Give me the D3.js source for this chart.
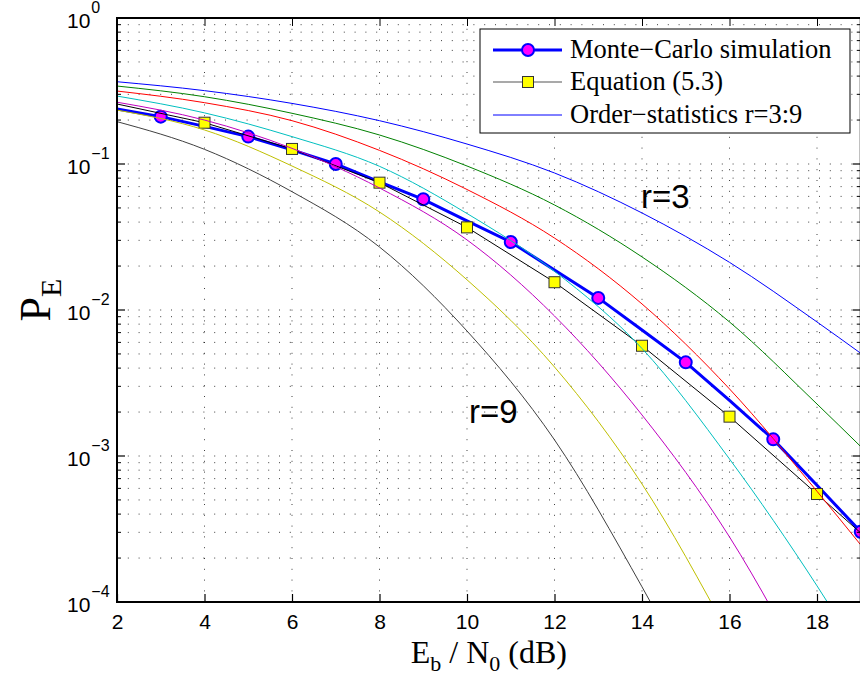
<!DOCTYPE html>
<html lang="en">
<head>
<meta charset="UTF-8">
<title>PE vs Eb/N0</title>
<script src="https://d3js.org/d3.v7.min.js"></script>
<style>
    body { margin: 0; background: #fff; }
    svg { display: block; }
    .tick text { font-family: "Liberation Sans", Arial, sans-serif; font-size: 21px; fill: #000; }
    .grid line { stroke: #000; stroke-width: 1; stroke-dasharray: 1,9.8; opacity: 0.75; }
    .serif { font-family: "Liberation Serif", "Times New Roman", serif; fill: #000; }
</style>
</head>
<body>
<script>
// Eb/N0 points (dB) used for the order-statistics curves
const snr = [2, 4, 6, 8, 10, 12, 14, 16, 18, 19];
// order statistics r = 3..9 (null = beyond the plot)
const r3 = [0.366, 0.318, 0.260, 0.198, 0.137, 0.0868, 0.0462, 0.0212, 0.00828, 0.00505];
const r4 = [0.342, 0.289, 0.2225, 0.158, 0.0969, 0.0524, 0.0231, 0.00828, 0.00227, 0.00116];
const r5 = [0.316, 0.263, 0.198, 0.124, 0.0669, 0.0311, 0.0110, 0.00288, 0.000573, 0.000246];
const r6 = [0.292, 0.224, 0.154, 0.0964, 0.0458, 0.0184, 0.00545, 0.000954, 0.000129, 0.000043];
const r7 = [0.265, 0.200, 0.128, 0.0685, 0.0302, 0.0091, 0.00191, 0.000279, 0.000024, null];
const r8 = [0.234, 0.171, 0.0969, 0.0469, 0.0161, 0.00407, 0.000643, 0.0000585, null, null];
const r9 = [0.195, 0.126, 0.0646, 0.0270, 0.00718, 0.00129, 0.000127, 0.0000094, null, null];
const orderSeries = [r3, r4, r5, r6, r7, r8, r9];
const orderColors = ["#0000ff", "#008000", "#ff0000", "#00bfbf", "#bf00bf", "#bfbf00", "#404040"];

// Monte-Carlo simulation
const mcSnr = [2, 3, 4, 5, 6, 7, 8, 9, 10, 11, 12, 13, 14, 15, 16, 17, 18, 19];
const mcPe = [0.238, 0.211, 0.181, 0.154, 0.125, 0.100, 0.0755, 0.0573, 0.0408, 0.0292,
              0.0188, 0.0121, 0.0073, 0.00438, 0.0024, 0.0013, 0.00063, 0.000303];
const mcMarkSnr = [3, 5, 7, 9, 11, 13, 15, 17, 19];

// Equation (5.3)
const eqSnr = [2, 4, 6, 8, 10, 12, 14, 16, 18, 19];
const eqPe = [0.2576, 0.1918, 0.1268, 0.0745, 0.0368, 0.0155, 0.00569, 0.00186, 0.000549, 0.000297];
const eqMarkSnr = [4, 6, 8, 10, 12, 14, 16, 18];

const xTicks = [2, 4, 6, 8, 10, 12, 14, 16, 18];
const yExp = [0, -1, -2, -3, -4];
const legendLabels = ["Monte\u2212Carlo simulation", "Equation (5.3)", "Order\u2212statistics r=3:9"];

const W = 860, H = 683;
const pLeft = 117, pRight = 860.75, pTop = 18, pBottom = 602;

const svg = d3.select("body").append("svg").attr("width", W).attr("height", H);

const x = d3.scaleLinear().domain([2, 19]).range([pLeft, pRight]);
const y = d3.scaleLog().domain([1e-4, 1]).range([pBottom, pTop]);

// minor log values
const minor = [];
yExp.slice(0, -1).forEach(e => {
    for (let k = 2; k <= 9; k++) minor.push(k * Math.pow(10, e - 1));
});
const majorY = yExp.map(e => Math.pow(10, e));

// grid
const grid = svg.append("g").attr("class", "grid");
grid.selectAll(".gy").data(majorY.concat(minor)).enter().append("line")
    .attr("x1", pLeft).attr("x2", pRight)
    .attr("y1", d => y(d)).attr("y2", d => y(d));
grid.selectAll(".gx").data(xTicks).enter().append("line")
    .attr("x1", d => x(d)).attr("x2", d => x(d))
    .attr("y1", pTop).attr("y2", pBottom);

svg.append("clipPath").attr("id", "clip").append("rect")
    .attr("x", pLeft).attr("y", pTop).attr("width", pRight - pLeft).attr("height", pBottom - pTop);

const plot = svg.append("g").attr("clip-path", "url(#clip)");

// Monte-Carlo line
const lin = d3.line().x(d => x(d[0])).y(d => y(d[1]));
plot.append("path")
    .datum(mcSnr.map((s, i) => [s, mcPe[i]]))
    .attr("d", lin).attr("fill", "none").attr("stroke", "#0000ff").attr("stroke-width", 3);
plot.selectAll(".mc").data(mcMarkSnr).enter().append("circle")
    .attr("cx", d => x(d)).attr("cy", d => y(mcPe[mcSnr.indexOf(d)]))
    .attr("r", 6).attr("fill", "#ff00ff").attr("stroke", "#0000ff").attr("stroke-width", 2);

// Equation line
plot.append("path")
    .datum(eqSnr.map((s, i) => [s, eqPe[i]]))
    .attr("d", lin).attr("fill", "none").attr("stroke", "#000").attr("stroke-width", 1);
plot.selectAll(".eq").data(eqMarkSnr).enter().append("rect")
    .attr("x", d => x(d) - 5.5).attr("y", d => y(eqPe[eqSnr.indexOf(d)]) - 5.5)
    .attr("width", 11).attr("height", 11)
    .attr("fill", "#ffff00").attr("stroke", "#333").attr("stroke-width", 1);

// order statistics curves
const smooth = d3.line()
    .defined(d => d[1] != null)
    .x(d => x(d[0])).y(d => y(d[1]))
    .curve(d3.curveMonotoneX);
orderSeries.forEach((vals, i) => {
    plot.append("path")
        .datum(snr.map((s, j) => [s, vals[j]]))
        .attr("d", smooth).attr("fill", "none")
        .attr("stroke", orderColors[i]).attr("stroke-width", 1);
});

// axes box
svg.append("rect").attr("x", pLeft).attr("y", pTop).attr("width", pRight - pLeft).attr("height", pBottom - pTop)
    .attr("fill", "none").attr("stroke", "#000").attr("stroke-width", 2);

// x ticks (inward) top and bottom
svg.append("g").attr("transform", `translate(0,${pBottom})`)
    .call(d3.axisBottom(x).tickValues(xTicks).tickSize(-8).tickPadding(12).tickFormat(d3.format("d")))
    .call(g => g.select(".domain").remove())
    .call(g => g.selectAll(".tick line").attr("stroke-width", 1.2));
svg.append("g").attr("transform", `translate(0,${pTop})`)
    .call(d3.axisTop(x).tickValues(xTicks).tickSize(-8).tickFormat(""))
    .call(g => g.select(".domain").remove());

// y ticks (inward) left and right, major and minor
[[pLeft, 1], [pRight, -1]].forEach(([px, dir]) => {
    const g = svg.append("g");
    g.selectAll(".maj").data(majorY).enter().append("line")
        .attr("x1", px).attr("x2", px + dir * 8)
        .attr("y1", d => y(d)).attr("y2", d => y(d)).attr("stroke", "#000").attr("stroke-width", 1.2);
    g.selectAll(".min").data(minor).enter().append("line")
        .attr("x1", px).attr("x2", px + dir * 4)
        .attr("y1", d => y(d)).attr("y2", d => y(d)).attr("stroke", "#000").attr("stroke-width", 1);
});

// y tick labels 10^e
const yl = svg.append("g").attr("class", "tick");
yExp.forEach(e => {
    const t = yl.append("text").attr("x", 67).attr("y", y(Math.pow(10, e)) + 10);
    t.append("tspan").text("10");
    t.append("tspan").attr("dy", -15).attr("dx", 1).style("font-size", "16px")
        .text(e === 0 ? "0" : "\u2212" + (-e));
});

// axis labels
const xl = svg.append("text").attr("class", "serif")
    .attr("x", (pLeft + pRight) / 2).attr("y", 663)
    .attr("text-anchor", "middle").style("font-size", "32px");
xl.append("tspan").text("E");
xl.append("tspan").attr("dy", 8).style("font-size", "22px").text("b");
xl.append("tspan").attr("dy", -8).text(" / N");
xl.append("tspan").attr("dy", 8).style("font-size", "22px").text("0");
xl.append("tspan").attr("dy", -8).text(" (dB)");

const ylab = svg.append("text").attr("class", "serif")
    .attr("transform", `translate(50,300) rotate(-90)`)
    .attr("text-anchor", "middle").style("font-size", "44px");
ylab.append("tspan").text("P");
ylab.append("tspan").attr("dy", 11).style("font-size", "30px").text("E");

// annotations
svg.append("text").attr("x", 641).attr("y", 208)
    .style("font-family", "'Liberation Sans', Arial, sans-serif").style("font-size", "33px").text("r=3");
svg.append("text").attr("x", 469).attr("y", 423)
    .style("font-family", "'Liberation Sans', Arial, sans-serif").style("font-size", "33px").text("r=9");

// legend
const lg = svg.append("g");
lg.append("rect").attr("x", 480).attr("y", 29).attr("width", 370).attr("height", 104)
    .attr("fill", "#fff").attr("stroke", "#000").attr("stroke-width", 1);
const rowY = [50, 82, 115];
lg.append("line").attr("x1", 493).attr("x2", 562).attr("y1", rowY[0]).attr("y2", rowY[0])
    .attr("stroke", "#0000ff").attr("stroke-width", 3);
lg.append("circle").attr("cx", 528).attr("cy", rowY[0]).attr("r", 6)
    .attr("fill", "#ff00ff").attr("stroke", "#0000ff").attr("stroke-width", 2);
lg.append("line").attr("x1", 493).attr("x2", 562).attr("y1", rowY[1]).attr("y2", rowY[1])
    .attr("stroke", "#555").attr("stroke-width", 1.2);
lg.append("rect").attr("x", 522.5).attr("y", rowY[1] - 5.5).attr("width", 11).attr("height", 11)
    .attr("fill", "#ffff00").attr("stroke", "#333");
lg.append("line").attr("x1", 493).attr("x2", 562).attr("y1", rowY[2]).attr("y2", rowY[2])
    .attr("stroke", "#0000ff").attr("stroke-width", 1);
legendLabels.forEach((t, i) => {
    lg.append("text").attr("class", "serif").attr("x", 570).attr("y", rowY[i] + 8)
        .style("font-size", "26.5px").text(t);
});
</script>
</body>
</html>
